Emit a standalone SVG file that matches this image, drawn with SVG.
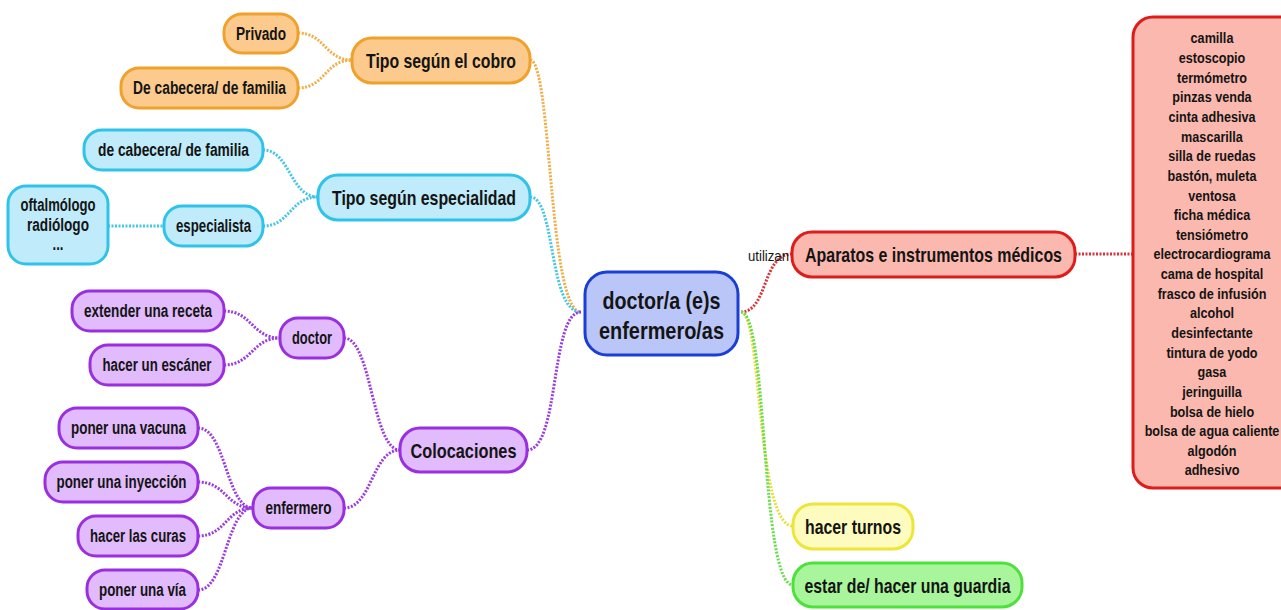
<svg xmlns="http://www.w3.org/2000/svg" width="1281" height="610" viewBox="0 0 1281 610">
<style>
text { font-family: "Liberation Sans", Arial, sans-serif; font-weight: bold; fill: #141414; text-anchor: middle; dominant-baseline: central; }
.s { font-size: 17.5px; }
.b { font-size: 20.5px; }
.c { font-size: 24.5px; }
.l { font-size: 15.4px; }
.lbl { font-size: 15px; font-weight: normal; text-anchor: start; }
rect { stroke-width: 3; }
.or rect { fill: #fdca8d; stroke: #f0a12c; }
.bl rect { fill: #bfebfa; stroke: #2fc3ea; }
.pu rect { fill: #e1bbfb; stroke: #9a2fe0; }
.ce rect { fill: #bac6f8; stroke: #1b3fd4; }
.re rect { fill: #fbb8ae; stroke: #df1c1c; }
.ye rect { fill: #fdfbbd; stroke: #ece63a; }
.gr rect { fill: #a8f59c; stroke: #4fe13b; }
#connectors path { fill: none; stroke-width: 3; stroke-dasharray: 2 1.5; }
.co { stroke: #f0ae45; }
.cb { stroke: #44c6e6; }
.cp { stroke: #9a3ce0; }
.cr { stroke: #d8343a; }
.cy { stroke: #e6df3c; }
.cg { stroke: #66de4c; }
</style>

<g id="connectors">
  <path class="co" d="M298,33 C325,33 325,60 352,60"/>
  <path class="co" d="M298,88 C325,88 325,60 352,60"/>
  <path class="co" d="M530,60 C552,60 548,312 581,312"/>
  <path class="cb" d="M263,150 C290,150 290,197 318,197"/>
  <path class="cb" d="M263,226 C290,226 290,197 318,197"/>
  <path class="cb" d="M108,226 L164,226"/>
  <path class="cb" d="M530,197 C556,197 548,312 581,312"/>
  <path class="cp" d="M224,311 C252,311 252,338 280,338"/>
  <path class="cp" d="M224,365 C252,365 252,338 280,338"/>
  <path class="cp" d="M344,338 C372,338 372,450 400,450"/>
  <path class="cp" d="M344,508 C372,508 372,450 400,450"/>
  <path class="cp" d="M198,428 C226,428 226,508 253,508"/>
  <path class="cp" d="M198,482 C226,482 226,508 253,508"/>
  <path class="cp" d="M198,536 C226,536 226,508 253,508"/>
  <path class="cp" d="M198,590 C226,590 226,508 253,508"/>
  <path class="cp" d="M527,450 C560,450 550,312 581,312"/>
  <path class="cr" d="M741,312 C768,312 762,254 792,254"/>
  <path class="cr" d="M1075,254 L1133,254"/>
  <path class="cy" d="M741,312 C762,312 756,526 793,526"/>
  <path class="cg" d="M741,312 C768,312 760,585 793,585"/>
</g>

<g id="n-privado" class="or">
  <rect x="224" y="14" width="74" height="39" rx="18"/>
  <text class="s" x="261" y="33.5" textLength="50" lengthAdjust="spacingAndGlyphs">Privado</text>
</g>
<g id="n-cabecera-cobro" class="or">
  <rect x="121" y="68" width="177" height="40" rx="18"/>
  <text class="s" x="209.5" y="88" textLength="153" lengthAdjust="spacingAndGlyphs">De cabecera/ de familia</text>
</g>
<g id="n-cobro" class="or">
  <rect x="352" y="38" width="178" height="45" rx="20"/>
  <text class="b" x="441" y="60.5" textLength="150" lengthAdjust="spacingAndGlyphs">Tipo según el cobro</text>
</g>

<g id="n-cabecera-esp" class="bl">
  <rect x="84" y="130" width="179" height="40" rx="18"/>
  <text class="s" x="173.5" y="150" textLength="151" lengthAdjust="spacingAndGlyphs">de cabecera/ de familia</text>
</g>
<g id="n-especialidad" class="bl">
  <rect x="318" y="175" width="212" height="45" rx="20"/>
  <text class="b" x="424" y="197.5" textLength="184" lengthAdjust="spacingAndGlyphs">Tipo según especialidad</text>
</g>
<g id="n-especialista" class="bl">
  <rect x="164" y="206" width="99" height="40" rx="18"/>
  <text class="s" x="213.5" y="226" textLength="75" lengthAdjust="spacingAndGlyphs">especialista</text>
</g>
<g id="n-oftalmologo" class="bl">
  <rect x="8" y="186" width="100" height="78" rx="18"/>
  <text class="s" x="58" y="205" textLength="75" lengthAdjust="spacingAndGlyphs">oftalmólogo</text>
  <text class="s" x="58" y="225" textLength="62" lengthAdjust="spacingAndGlyphs">radiólogo</text>
  <text class="s" x="58" y="244" textLength="11" lengthAdjust="spacingAndGlyphs">...</text>
</g>

<g id="n-receta" class="pu">
  <rect x="72" y="291" width="152" height="40" rx="18"/>
  <text class="s" x="148" y="311" textLength="128" lengthAdjust="spacingAndGlyphs">extender una receta</text>
</g>
<g id="n-escaner" class="pu">
  <rect x="90" y="345" width="134" height="40" rx="18"/>
  <text class="s" x="157" y="365" textLength="109" lengthAdjust="spacingAndGlyphs">hacer un escáner</text>
</g>
<g id="n-doctor" class="pu">
  <rect x="280" y="318" width="64" height="40" rx="18"/>
  <text class="s" x="312" y="338" textLength="40" lengthAdjust="spacingAndGlyphs">doctor</text>
</g>
<g id="n-vacuna" class="pu">
  <rect x="59" y="408" width="139" height="40" rx="18"/>
  <text class="s" x="128.5" y="428" textLength="115" lengthAdjust="spacingAndGlyphs">poner una vacuna</text>
</g>
<g id="n-inyeccion" class="pu">
  <rect x="45" y="462" width="153" height="40" rx="18"/>
  <text class="s" x="121.5" y="482" textLength="130" lengthAdjust="spacingAndGlyphs">poner una inyección</text>
</g>
<g id="n-curas" class="pu">
  <rect x="78" y="516" width="120" height="40" rx="18"/>
  <text class="s" x="138" y="536" textLength="96" lengthAdjust="spacingAndGlyphs">hacer las curas</text>
</g>
<g id="n-via" class="pu">
  <rect x="87" y="570" width="111" height="39" rx="18"/>
  <text class="s" x="142.5" y="590" textLength="87" lengthAdjust="spacingAndGlyphs">poner una vía</text>
</g>
<g id="n-enfermero" class="pu">
  <rect x="253" y="488" width="91" height="40" rx="18"/>
  <text class="s" x="298.5" y="508" textLength="66" lengthAdjust="spacingAndGlyphs">enfermero</text>
</g>
<g id="n-colocaciones" class="pu">
  <rect x="400" y="428" width="127" height="44" rx="20"/>
  <text class="b" x="463.5" y="450" textLength="106" lengthAdjust="spacingAndGlyphs">Colocaciones</text>
</g>

<g id="n-center" class="ce">
  <rect x="585" y="272" width="153" height="83" rx="22"/>
  <text class="c" x="661.5" y="300" textLength="118" lengthAdjust="spacingAndGlyphs">doctor/a (e)s</text>
  <text class="c" x="661.5" y="330" textLength="125" lengthAdjust="spacingAndGlyphs">enfermero/as</text>
</g>

<text class="lbl" x="748" y="255" textLength="41" lengthAdjust="spacingAndGlyphs">utilizan</text>

<g id="n-aparatos" class="re">
  <rect x="792" y="232" width="283" height="45" rx="20"/>
  <text class="b" x="933.5" y="254.5" textLength="257" lengthAdjust="spacingAndGlyphs">Aparatos e instrumentos médicos</text>
</g>
<g id="n-lista" class="re">
  <rect x="1133" y="17" width="170" height="471" rx="20"/>
  <g transform="translate(1212,0) scale(0.82,1)">
    <text class="l" x="0" y="38">camilla</text>
    <text class="l" x="0" y="57.6">estoscopio</text>
    <text class="l" x="0" y="77.3">termómetro</text>
    <text class="l" x="0" y="96.9">pinzas venda</text>
    <text class="l" x="0" y="116.5">cinta adhesiva</text>
    <text class="l" x="0" y="136.2">mascarilla</text>
    <text class="l" x="0" y="155.8">silla de ruedas</text>
    <text class="l" x="0" y="175.5">bastón, muleta</text>
    <text class="l" x="0" y="195.1">ventosa</text>
    <text class="l" x="0" y="214.7">ficha médica</text>
    <text class="l" x="0" y="234.4">tensiómetro</text>
    <text class="l" x="0" y="254">electrocardiograma</text>
    <text class="l" x="0" y="273.6">cama de hospital</text>
    <text class="l" x="0" y="293.3">frasco de infusión</text>
    <text class="l" x="0" y="312.9">alcohol</text>
    <text class="l" x="0" y="332.5">desinfectante</text>
    <text class="l" x="0" y="352.2">tintura de yodo</text>
    <text class="l" x="0" y="371.8">gasa</text>
    <text class="l" x="0" y="391.5">jeringuilla</text>
    <text class="l" x="0" y="411.1">bolsa de hielo</text>
    <text class="l" x="0" y="430.7">bolsa de agua caliente</text>
    <text class="l" x="0" y="450.4">algodón</text>
    <text class="l" x="0" y="470">adhesivo</text>
  </g>
</g>

<g id="n-turnos" class="ye">
  <rect x="793" y="504" width="120" height="45" rx="20"/>
  <text class="b" x="853" y="526.5" textLength="96" lengthAdjust="spacingAndGlyphs">hacer turnos</text>
</g>
<g id="n-guardia" class="gr">
  <rect x="793" y="563" width="229" height="44" rx="20"/>
  <text class="b" x="907.5" y="585" textLength="206" lengthAdjust="spacingAndGlyphs">estar de/ hacer una guardia</text>
</g>
</svg>
